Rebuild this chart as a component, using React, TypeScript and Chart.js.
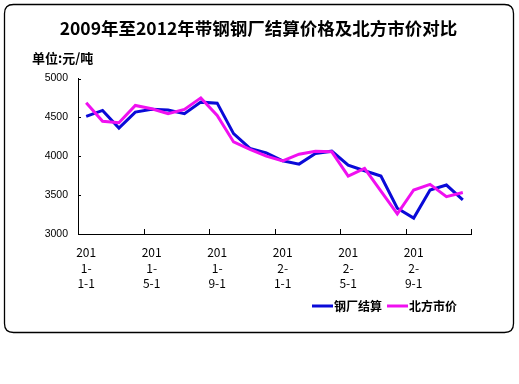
import React, { useEffect, useRef } from "react";
import { Chart, registerables } from "chart.js";

Chart.register(...registerables);

const TITLE = "2009年至2012年带钢钢厂结算价格及北方市价对比";
const UNIT = "单位:元/吨";

const categories = [
  "2011-1-1", "2011-2-1", "2011-3-1", "2011-4-1", "2011-5-1", "2011-6-1",
  "2011-7-1", "2011-8-1", "2011-9-1", "2011-10-1", "2011-11-1", "2011-12-1",
  "2012-1-1", "2012-2-1", "2012-3-1", "2012-4-1", "2012-5-1", "2012-6-1",
  "2012-7-1", "2012-8-1", "2012-9-1", "2012-10-1", "2012-11-1", "2012-12-1",
];

const millPrice = [
  4513, 4590, 4363, 4568, 4605, 4594, 4547, 4696, 4683, 4291, 4100, 4044,
  3941, 3899, 4035, 4065, 3886, 3813, 3745, 3332, 3205, 3566, 3630, 3439,
];

const northMarket = [
  4688, 4449, 4432, 4653, 4611, 4547, 4602, 4751, 4525, 4184, 4087, 4001,
  3941, 4027, 4065, 4057, 3745, 3844, 3550, 3260, 3566, 3639, 3481, 3533,
];

const seriesNames = ["钢厂结算", "北方市价"];
const seriesColors = ["#0a0ad8", "#f010f0"];

const yMin = 3000;
const yMax = 5000;
const yStep = 500;

const CJK = '"Noto Sans CJK SC", "Noto Sans", sans-serif';

const decorPlugin = {
  id: "decor",
  beforeDraw(chart: any) {
    const ctx = chart.ctx;
    ctx.save();
    ctx.fillStyle = "#ffffff";
    ctx.fillRect(0, 0, chart.width, chart.height);
    // rounded frame
    const x0 = 4.5, y0 = 4.5, x1 = 513.5, y1 = 332.5, r = 9;
    ctx.beginPath();
    ctx.moveTo(x0 + r, y0);
    ctx.lineTo(x1 - r, y0);
    ctx.quadraticCurveTo(x1, y0, x1, y0 + r);
    ctx.lineTo(x1, y1 - r);
    ctx.quadraticCurveTo(x1, y1, x1 - r, y1);
    ctx.lineTo(x0 + r, y1);
    ctx.quadraticCurveTo(x0, y1, x0, y1 - r);
    ctx.lineTo(x0, y0 + r);
    ctx.quadraticCurveTo(x0, y0, x0 + r, y0);
    ctx.closePath();
    ctx.strokeStyle = "#000";
    ctx.lineWidth = 1.3;
    ctx.stroke();
    ctx.restore();
  },
  afterDraw(chart: any) {
    const ctx = chart.ctx;
    const xs = chart.scales.x;
    const ys = chart.scales.y;
    const area = chart.chartArea;
    ctx.save();
    // title
    ctx.fillStyle = "#000";
    ctx.font = `bold 17.5px ${CJK}`;
    ctx.textAlign = "center";
    ctx.textBaseline = "middle";
    ctx.fillText(TITLE, 258.5, 28);
    // unit
    ctx.font = `bold 13px ${CJK}`;
    ctx.textAlign = "left";
    ctx.fillText(UNIT, 32, 58);

    // inward tick marks
    ctx.strokeStyle = "#000";
    ctx.lineWidth = 1;
    const half = (xs.getPixelForValue(1) - xs.getPixelForValue(0)) / 2;
    for (let k = 0; k <= categories.length; k += 4) {
      const px = Math.round(xs.getPixelForValue(k) - half) + 0.5;
      ctx.beginPath();
      ctx.moveTo(px, area.bottom);
      ctx.lineTo(px, area.bottom - 5);
      ctx.stroke();
    }
    ys.ticks.forEach((t: any) => {
      const py = Math.round(ys.getPixelForValue(t.value)) + 0.5;
      ctx.beginPath();
      ctx.moveTo(area.left, py);
      ctx.lineTo(area.left + 3, py);
      ctx.stroke();
    });

    // legend
    const legendY = 306;
    const items = [
      { x: 312, lineW: 21 },
      { x: 387, lineW: 21 },
    ];
    ctx.font = `bold 12px ${CJK}`;
    ctx.textBaseline = "middle";
    ctx.textAlign = "left";
    chart.data.datasets.forEach((ds: any, i: number) => {
      const it = items[i];
      ctx.strokeStyle = ds.borderColor;
      ctx.lineWidth = 3;
      ctx.beginPath();
      ctx.moveTo(it.x, legendY);
      ctx.lineTo(it.x + it.lineW, legendY);
      ctx.stroke();
      ctx.fillStyle = "#000";
      ctx.fillText(ds.label, it.x + it.lineW + 1, legendY);
    });
    ctx.restore();
  },
};

export default function App() {
  const ref = useRef<HTMLCanvasElement | null>(null);

  useEffect(() => {
    if (!ref.current) return;
    const chart = new Chart(ref.current, {
      type: "line",
      data: {
        labels: categories,
        datasets: [
          {
            label: seriesNames[0],
            data: millPrice,
            borderColor: seriesColors[0],
            backgroundColor: seriesColors[0],
            borderWidth: 3,
            pointRadius: 0,
            tension: 0,
            order: 1,
          },
          {
            label: seriesNames[1],
            data: northMarket,
            borderColor: seriesColors[1],
            backgroundColor: seriesColors[1],
            borderWidth: 3,
            pointRadius: 0,
            tension: 0,
            order: 0,
          },
        ],
      },
      options: {
        responsive: false,
        animation: false,
        devicePixelRatio: 1,
        layout: {
          padding: { left: 0, top: 78.5, right: 48, bottom: 90 },
        },
        plugins: {
          legend: { display: false },
          title: { display: false },
          tooltip: { enabled: false },
        },
        scales: {
          x: {
            type: "category",
            offset: true,
            afterFit: (s: any) => {
              s.height = 60;
            },
            grid: {
              display: true,
              offset: true,
              drawOnChartArea: false,
              drawTicks: false,
              color: "rgba(0,0,0,0)",
            },
            border: { display: true, color: "#000", width: 1 },
            ticks: {
              autoSkip: false,
              maxRotation: 0,
              minRotation: 0,
              padding: 10,
              color: "#000",
              font: { family: CJK, size: 12, lineHeight: 1.33 },
              callback: (_v: any, i: number) => {
                if (i % 4 !== 0) return "";
                const s = categories[i];
                return [s.slice(0, 3), s.slice(3, 5), s.slice(5)];
              },
            },
          },
          y: {
            min: yMin,
            max: yMax,
            afterFit: (s: any) => {
              s.width = 78;
            },
            grid: {
              display: true,
              drawOnChartArea: false,
              drawTicks: false,
              color: "rgba(0,0,0,0)",
            },
            border: { display: true, color: "#000", width: 1 },
            ticks: {
              stepSize: yStep,
              padding: 10,
              color: "#000",
              font: { family: '"Liberation Sans", Arial, sans-serif', size: 10.5 },
              callback: (v: any) => String(v),
            },
          },
        },
      },
      plugins: [decorPlugin],
    });
    return () => chart.destroy();
  }, []);

  return (
    <div style={{ position: "absolute", left: 0, top: 0, width: 519, height: 384, background: "#fff" }}>
      <canvas ref={ref} width={519} height={384} style={{ display: "block" }} />
    </div>
  );
}
